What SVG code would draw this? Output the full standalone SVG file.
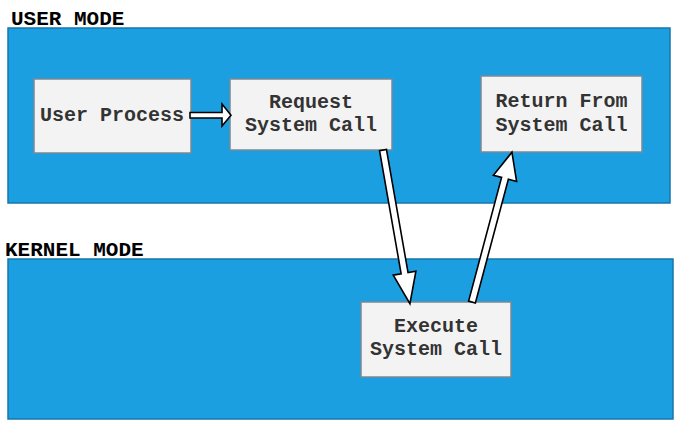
<svg xmlns="http://www.w3.org/2000/svg" width="679" height="444" viewBox="0 0 679 444">
<style>
.zone{fill:#1b9fe0;stroke:#1677ad;stroke-width:1.5}
.box{fill:#f3f3f3;stroke:#7a8a96;stroke-width:1.5}
.lbl{font-family:"Liberation Mono","Courier New",monospace;font-weight:bold;font-size:21px;fill:#000}
.t{font-family:"Liberation Mono","Courier New",monospace;font-weight:bold;font-size:20px;fill:#333;text-anchor:middle}
.arr{fill:#ffffff;stroke:#000;stroke-width:1.6;stroke-linejoin:miter}
</style>
<rect width="679" height="444" fill="#ffffff"/>
<g id="user-mode">
<rect class="zone" x="8" y="28" width="662" height="175"/>
<text class="lbl" x="11" y="25">USER MODE</text>
</g>
<g id="kernel-mode">
<rect class="zone" x="8" y="259" width="665" height="160"/>
<text class="lbl" x="5" y="256">KERNEL MODE</text>
</g>
<g id="user-process">
<rect class="box" x="34" y="79" width="157" height="74"/>
<text class="t" x="112" y="121">User Process</text>
</g>
<g id="request-system-call">
<rect class="box" x="230" y="79" width="162" height="71"/>
<text class="t" x="311" y="108">Request</text>
<text class="t" x="311" y="131">System Call</text>
</g>
<g id="return-from-system-call">
<rect class="box" x="481" y="76" width="161" height="76"/>
<text class="t" x="561.5" y="107">Return From</text>
<text class="t" x="561.5" y="131">System Call</text>
</g>
<g id="execute-system-call">
<rect class="box" x="361" y="302" width="150" height="75"/>
<text class="t" x="436" y="332">Execute</text>
<text class="t" x="436" y="355">System Call</text>
</g>
<g id="connectors">
<polygon class="arr" points="190,112.5 222,112.5 222,104 231,115.3 222,126 222,118 190,118"/>
<g transform="translate(383,150) rotate(80.06)">
<polygon class="arr" points="0,-3.5 125,-3.5 125,-11.5 156,0 125,11.5 125,3.5 0,3.5"/>
</g>
<g transform="translate(472,302) rotate(-75.07)">
<polygon class="arr" points="0,-3.5 128,-3.5 128,-12 155,0 128,12 128,3.5 0,3.5"/>
</g>
</g>
</svg>
